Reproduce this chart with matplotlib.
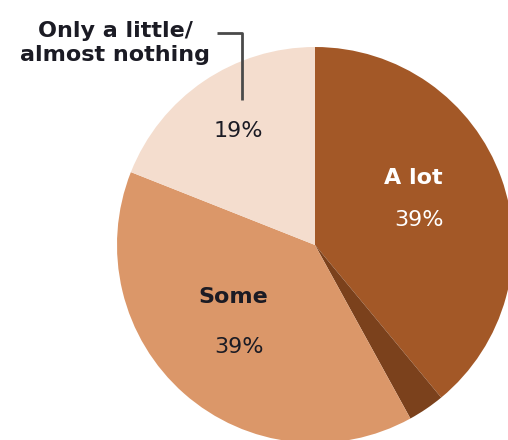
import matplotlib.pyplot as plt

# survey shares, clockwise from 12 o'clock
labels = ['A lot', '', 'Some', 'Only a little/\nalmost nothing']
shares = [39, 3, 39, 19]
colors = ['#A35827', '#7B411C', '#DB9769', '#F4DDCE']

fig = plt.figure(figsize=(5.08, 4.40), dpi=100)
ax = fig.add_axes([0, 0, 1, 1])

H = 440
cx, cy, r = 315, H - 245, 198

ax.pie(shares, colors=colors, startangle=90, counterclock=False,
       center=(cx, cy), radius=r, frame=True,
       wedgeprops={'linewidth': 0})
ax.set_xlim(0, 508)
ax.set_ylim(0, 440)
ax.set_aspect('equal')
ax.axis('off')

font = 'DejaVu Sans'
dark = '#1b1b24'
ax.text(413, H - 178, labels[0], ha='center', va='center', fontsize=16,
        fontweight='bold', color='white', family=font)
ax.text(419, H - 220, f'{shares[0]}%', ha='center', va='center', fontsize=16,
        color='white', family=font)

ax.text(233, H - 297, labels[2], ha='center', va='center', fontsize=16,
        fontweight='bold', color=dark, family=font)
ax.text(239, H - 347, f'{shares[2]}%', ha='center', va='center', fontsize=16,
        color=dark, family=font)

ax.text(238, H - 131, f'{shares[3]}%', ha='center', va='center', fontsize=16,
        color=dark, family=font)
ax.text(115, H - 43, labels[3], ha='center', va='center', fontsize=16,
        fontweight='bold', color=dark, family=font, linespacing=1.3)

# leader line from the outside label into the small slice
ax.plot([217, 242, 242], [H - 33, H - 33, H - 100], color='#4a4a4a',
        linewidth=2, solid_capstyle='butt')

fig.savefig('out.png', dpi=100)
